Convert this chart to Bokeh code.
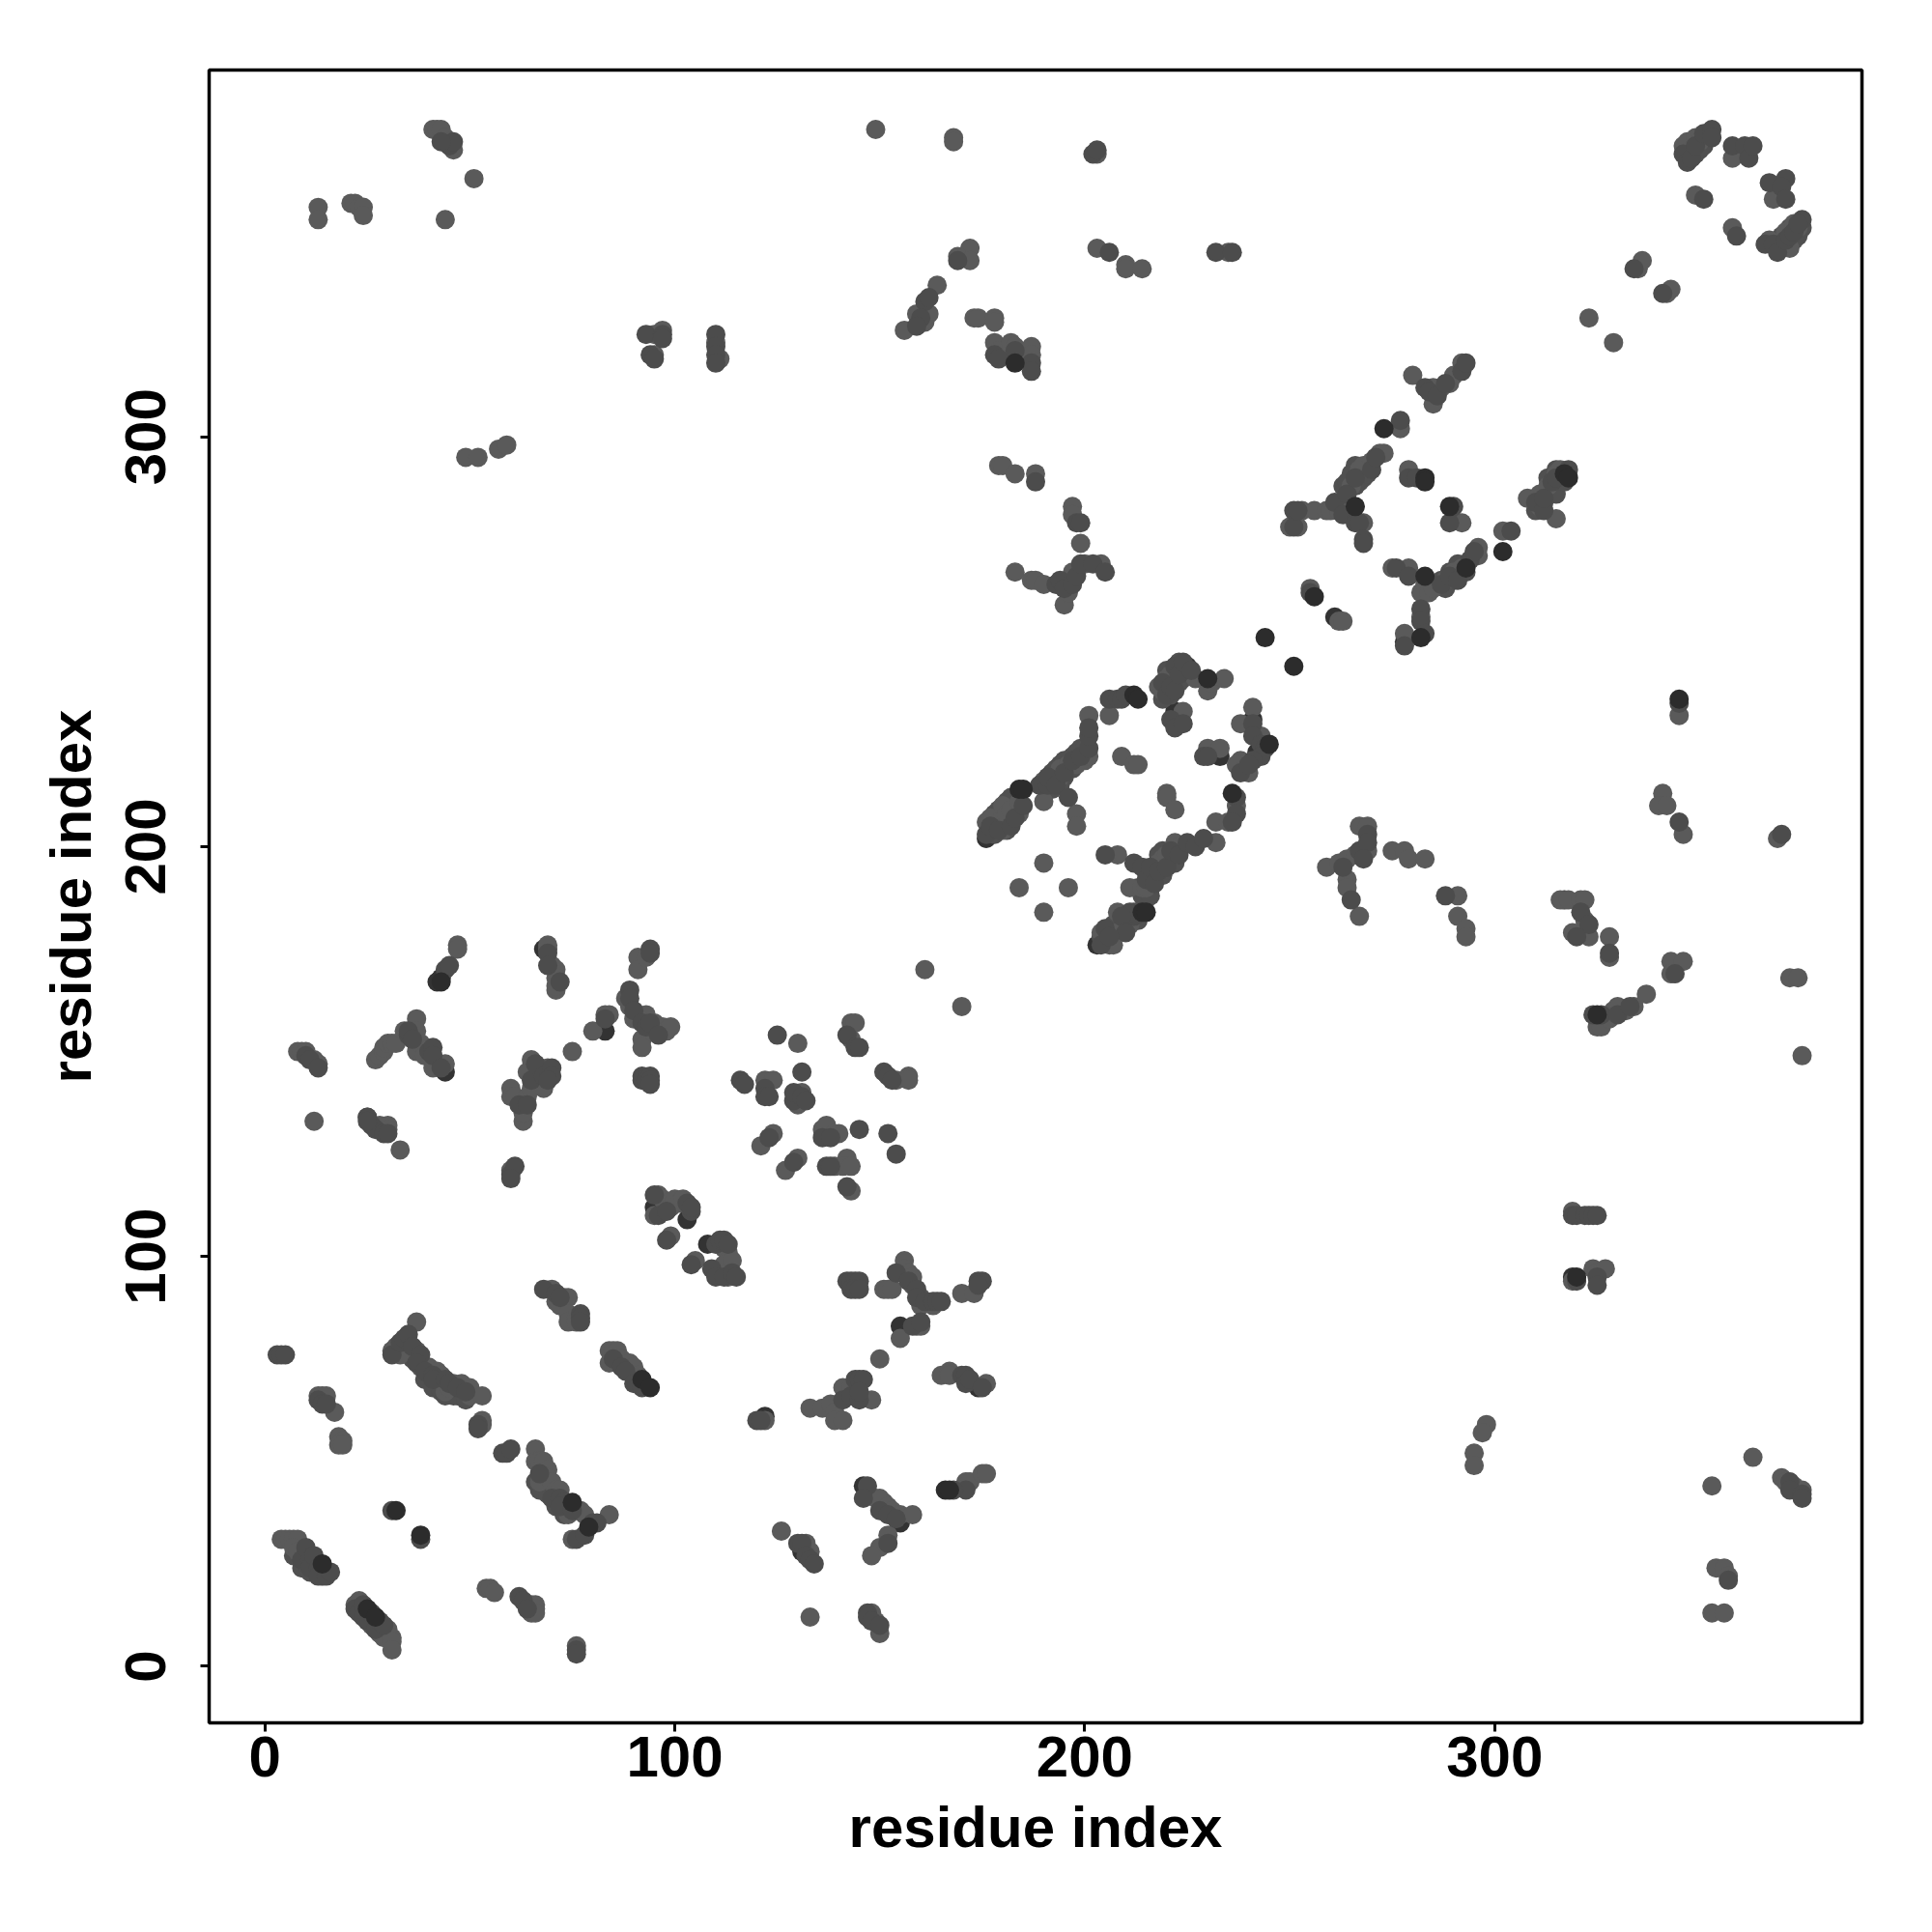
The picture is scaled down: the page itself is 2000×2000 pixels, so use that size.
from bokeh.plotting import figure
from bokeh.models import FixedTicker, ColumnDataSource
from bokeh.embed import file_html
from bokeh.resources import INLINE

tick_values = [0, 100, 200, 300]
axis_label = "residue index"

# contacts (residue i, residue j), by grey level
under_dark = [(12,25),(14,22),(42,167),(43,168),(68,175),(83,155),(95,112),(103,109),(108,103),(111,96),(131,28),
 (146,44),(155,35),(122,61),(155,83),(174,68),(176,202),(203,176),(261,256),(278,250),(269,293),(242,223),(241,231),
 (222,233),(233,222),(225,244),(67,146),(44,145),(319,95),(317,187)]

mid = [(31,76),(33,79),(34,80),(35,81),(36,78),(38,76),(37,74),(39,72),(41,71),(41,70),(44,70),(45,69),(47,68),(49,67),
 (52,59),(52,58),(58,52),(59,52),(60,53),(67,47),(70,41),(72,41),(73,40),(72,39),(75,38),(76,31),(78,32),(80,35),(81,35),
 (68,92),(71,91),(72,90),(77,86),(77,85),(77,84),(85,75),(87,73),(88,72),(90,69),(92,68),
 (9,26),(10,29),(11,26),(11,24),(12,27),(13,24),(13,22),(15,22),(16,23),(22,14),(23,13),(24,15),(24,12),(25,11),(26,13),
 (27,9),(28,11),(29,10),(3,76),(4,76),(5,76),(13,65),(14,64),(15,64),(62,17),(63,16),(64,14),(76,4),(76,3),(38,31),(31,38),
 (44,170),(45,171),(69,174),(69,171),(72,167),(94,175),(94,174),(83,158),(89,165),(89,163),(90,160),(92,157),(93,156),
 (94,157),(96,154),(92,144),(92,143),(93,143),(94,144),(94,143),(94,142),(10,149),(11,148),(13,146),(25,134),(26,132),
 (27,131),(29,130),(30,130),(35,154),(35,155),(36,153),(40,150),(41,151),(41,149),(43,146),(62,137),(64,137),(65,143),
 (66,147),(68,144),(70,146),(70,144),(69,143),(60,120),(61,122),(60,119),(95,115),(96,110),(98,111),(103,113),(104,111),
 (104,112),(98,104),(104,98),(125,154),(131,145),(142,154),(144,151),(145,151),(151,145),(152,144),(153,143),(116,143),
 (117,142),(122,141),(122,139),(123,139),(129,138),(129,140),(131,139),(132,138),(123,129),(129,123),(136,129),(138,129),
 (137,122),(138,122),(145,131),(152,130),(154,125),(142,117),(110,103),(111,104),(112,104),(113,103),(109,97),(110,95),
 (112,95),(114,96),(115,95),(142,94),(143,94),(144,94),(145,94),(143,92),(144,92),(145,92),(154,96),(157,94),(159,92),
 (159,90),(161,89),(163,89),(164,89),(165,89),(174,94),(175,94),(174,93),(158,83),(160,84),(141,65),(143,66),(144,70),
 (145,70),(146,70),(145,65),(145,67),(120,60),(121,60),(170,71),(171,71),(171,69),(172,70),(175,68),(171,43),(168,43),
 (147,44),(146,41),(150,38),(152,37),(154,36),(152,30),(130,30),(131,30),(132,27),(133,26),(134,25),(147,13),(147,12),
 (148,11),(150,10),(176,203),(177,205),(179,204),(182,205),(183,207),(185,210),(189,215),(191,215),(191,217),(193,215),
 (195,218),(196,212),(197,221),(199,222),(201,224),(201,227),(201,229),(206,236),(208,236),(209,236),(210,237),
 (219,240),(220,237),(221,239),(222,238),(222,244),(223,242),(224,245),(226,243),(221,231),(222,229),(224,230),(229,222),
 (230,222),(241,230),(241,227),(243,225),(244,224),(243,222),(241,221),(238,218),(240,220),(237,212),(237,208),(236,206),
 (205,198),(212,196),(214,195),(215,192),(216,195),(217,191),(218,194),(220,195),(221,199),(223,198),(225,201),(227,200),
 (229,202),(212,183),(211,184),(209,183),(210,179),(205,180),(204,176),(206,178),
 (251,278),(251,282),(252,282),(261,284),(263,281),(264,286),(266,290),(266,279),(267,279),(268,275),(268,274),(270,292),
 (271,295),(277,304),(279,290),(281,290),(290,283),(289,279),(276,268),(279,266),(282,258),(282,255),(283,252),(278,249),
 (287,264),(289,266),(291,265),(294,270),(295,272),(304,277),(310,284),(312,282),(312,285),(314,289),(315,290),(318,292),
 (283,312),(284,311),(286,310),(288,313),(292,316),(293,318),(255,262),(346,369),(347,367),(348,368),(349,371),(351,374),
 (353,375),(353,373),(358,371),(361,371),(362,368),(363,371),(367,362),(371,363),(370,361),(371,358),(359,349),(351,358),
 (366,347),(368,347),(369,345),(371,348),(372,349),(373,350),(375,353),(374,352),(334,341),(341,335),(202,369),(203,370),
 (206,345),(232,345),(236,345),(169,343),(161,333),(162,334),(160,329),(159,327),(178,320),(179,319),(183,321),(187,318),
 (187,316),(93,325),(97,325),(97,324),(94,320),(95,319),(110,325),(110,322),(110,320),(110,318),(45,371),(46,372),(43,372),
 (188,289),(198,279),(199,279),(193,264),(194,265),(195,263),(197,264),(198,266),(199,269),(202,269),(205,267),
 (263,195),(267,199),(269,203),(269,201),(268,197),(265,187),(288,188),(321,184),(323,181),(320,178),(328,174),(324,159),
 (326,159),(330,159),(333,161),(319,110),(320,110),(322,110),(323,110),(324,110),(325,110),(320,94),(325,95),(325,93),
 (372,45),(372,43),(375,42),(375,41),(357,21),(344,169),(345,235),(345,206),(370,203),(25,133)]

light = [(37,84),(32,77),(31,77),(32,78),(33,76),(37,77),(38,73),(40,73),(42,72),(43,71),(44,67),(45,68),(46,69),(48,69),
 (50,68),(50,66),(53,66),(53,60),(53,59),(13,66),(14,66),(15,66),(17,62),(18,56),(19,55),(18,54),(19,54),
 (66,53),(66,50),(67,50),(68,50),(67,45),(69,48),(69,46),(70,45),(71,43),(72,43),(74,37),(75,31),(76,38),(77,38),(78,37),(84,37),
 (70,92),(73,90),(74,90),(71,89),(72,88),(74,86),(74,84),(76,85),(76,84),(84,77),(85,77),(86,77),(84,74),(87,75),(89,74),(90,73),(91,71),
 (4,31),(5,31),(6,31),(7,31),(8,31),(7,29),(8,28),(10,27),(22,15),(23,16),(26,10),(28,8),(29,7),(30,9),(31,7),(31,6),(31,4),
 (54,19),(55,19),(56,18),(65,15),(66,15),(65,13),(66,14),(66,13),(76,5),
 (47,176),(47,175),(69,175),(69,176),(70,171),(71,170),(71,168),(71,165),(71,166),(91,173),(91,170),(93,173),
 (80,155),(83,159),(84,159),(88,163),(89,161),(90,158),(91,158),(93,159),(95,157),(96,156),(97,156),(98,155),(99,156),(92,153),(92,151),
 (8,150),(9,150),(10,150),(12,148),(13,147),(12,133),(25,134),(28,132),(29,131),(30,132),(30,131),(33,126),
 (27,148),(28,149),(29,150),(29,151),(30,152),(31,152),(32,152),(34,155),(36,154),(37,158),(37,155),(37,152),(37,150),(38,152),(39,151),(39,149),(41,146),(44,147),
 (60,141),(60,139),(61,139),(63,133),(63,135),(64,139),(65,141),(64,145),(65,148),(68,141),(69,146),(75,150),(60,121),
 (96,115),(97,114),(98,113),(99,112),(100,114),(101,113),(102,114),(95,110),(99,105),(105,99),
 (130,152),(143,157),(144,157),(143,153),(154,143),(157,144),(157,143),(122,143),(124,143),(131,140),(130,137),
 (124,130),(121,127),(130,124),(127,121),(136,131),(137,132),(139,130),(140,130),(139,122),(142,124),(141,122),(143,122),(143,116),(170,161),(161,170),
 (112,102),(113,101),(113,99),(112,98),(114,99),(113,95),
 (151,92),(152,92),(153,92),(156,99),(156,97),(157,96),(158,95),(158,93),(160,90),(160,88),(163,88),(170,91),(173,91),
 (155,80),(159,83),(160,83),(150,75),(133,63),(136,63),(138,64),(139,62),(139,60),(141,60),(141,68),(143,68),(148,65),(122,60),
 (165,71),(167,72),(167,71),(176,69),(171,45),(172,45),(175,47),(176,47),
 (149,41),(151,40),(150,41),(152,39),(153,38),(155,37),(158,37),(152,32),(150,29),(148,27),(126,33),(132,30),(133,28),(133,12),(148,13),(149,11),(150,8),
 (176,206),(177,207),(179,206),(180,204),(180,210),(181,208),(182,209),(184,208),(184,211),(190,211),(190,216),(192,216),(193,217),(194,217),(194,219),(196,220),(198,220),(198,208),(198,205),(200,221),(201,222),(201,232),(206,232),
 (218,239),(219,238),(220,241),(221,242),(227,241),(230,238),(231,240),(234,241),(224,233),(223,230),(209,222),(212,220),(213,220),(220,213),(220,212),(222,209),(230,224),(233,224),
 (241,234),(238,230),(243,227),(238,221),(237,220),(239,219),(240,218),(237,210),(232,206),(235,206),(208,198),(190,196),(184,190),(196,190),(190,184),(211,190),
 (214,190),(215,194),(215,190),(216,192),(217,193),(218,196),(219,197),(220,198),(222,201),(223,200),(232,201),(208,184),(211,181),(208,179),(204,179),(206,176),(207,176),
 (255,263),(262,255),(263,255),(250,278),(252,278),(253,282),(256,282),(259,282),(260,282),(262,282),(263,284),(264,283),(265,288),(268,279),(267,292),(268,293),(270,294),(272,296),(273,296),(277,302),(279,292),(292,279),
 (275,268),(279,268),(282,262),(283,264),(284,262),(285,263),(282,256),(278,252),(288,265),(290,267),(292,268),(296,273),(296,271),(302,277),
 (308,285),(311,283),(311,286),(313,288),(315,280),(315,291),(316,292),(280,315),(285,312),(285,308),(287,312),(289,313),(290,315),(292,318),
 (346,371),(347,372),(348,370),(349,373),(350,372),(358,368),(368,358),(349,359),(358,351),(367,348),(370,346),(372,346),(371,350),(373,352),(374,351),
 (335,341),(336,343),(342,335),(343,336),(323,329),(329,323),(203,369),(203,346),(210,342),(210,341),(214,341),(235,345),
 (172,346),(169,344),(172,343),(164,337),(159,330),(161,328),(162,330),(156,326),(173,329),(174,329),(178,329),(178,328),(178,323),(179,321),(182,323),(183,322),(187,322),(187,320),
 (41,375),(42,375),(43,375),(44,373),(45,372),(46,370),(51,363),(44,353),(13,356),(13,353),(21,357),(22,357),(23,356),(24,356),(24,354),
 (49,295),(52,295),(57,297),(59,298),(95,325),(97,326),(95,320),(110,323),(111,319),(149,375),(168,373),(168,372),
 (179,293),(180,293),(183,291),(188,291),(197,283),(197,281),(199,274),(183,267),(187,265),(188,265),(190,264),(195,259),(196,262),(197,267),(200,269),(204,269),
 (259,195),(262,196),(264,192),(264,190),(267,183),(264,197),(266,198),(269,199),(267,205),(269,205),(275,199),(278,199),(279,197),(283,197),(291,188),(291,183),(293,180),(293,178),
 (316,187),(318,187),(321,187),(322,187),(322,182),(319,179),(323,178),(328,178),(328,173),(343,172),(346,172),(343,169),(372,168),(374,168),(375,149),
 (325,156),(326,156),(328,158),(329,160),(330,161),(332,160),(334,161),(337,164),(319,111),(324,97),(325,96),(327,97),(319,94),
 (298,59),(297,57),(295,52),(295,49),(363,51),(353,44),(370,46),(371,45),(373,44),(375,43),(354,24),(356,24),(357,22),(353,13),(356,13),
 (345,232),(341,213),(340,210),(342,210),(346,203),(369,202)]

# further contacts that widen the dense bands
band_extra = [(194,220),(195,221),(197,222),(198,223),(199,224),(200,224),(192,218),(193,219),(195,217),(197,219),(192,214),(194,215),
 (219,193),(221,196),(222,196),(219,199),(218,198),(216,190),(214,188),(216,188),(213,190),
 (263,288),(264,289),(266,293),(265,291),(268,290),(267,289),(266,288),(269,291),
 (287,265),(289,267),(291,269),(288,263),(290,265),(293,267),
 (313,290),(315,292),(315,286),(317,289),(312,284),(310,282),
 (349,369),(350,370),(351,371),(352,373),(347,370),
 (369,347),(370,349),(372,351),(374,349),(375,351),(373,348),
 (204,178),(205,177),(207,181),(209,180),(210,182),(212,184),(213,182),
 (178,208),(178,203),(180,207),(181,204),(183,210),(182,212),(179,209),(181,211),
 (219,236),(221,237),(223,240),(222,240),(224,241),(220,243),(223,245),
 (39,70),(36,75),(41,68),(43,67),(44,66),(46,66),(47,66),(49,65),
 (66,45),(67,43),(69,42),(70,43),(71,39),(73,37),(7,27),(9,24),(10,25),(11,23)]

top_dark = [(32,38),(38,32),(14,25),(25,14),(27,12),(75,40),(79,34),(92,70),(94,68),(43,167),(183,318),(166,43),(167,43),
 (212,237),(213,236),(184,214),(185,214),(214,184),(215,184),(230,241),(245,225),(236,213),(251,244),(244,251),(256,261),
 (283,290),(283,289),(289,283),(266,283),(283,266),(282,251),(273,302),(302,272),(293,268),(317,291),(318,290),
 (325,159),(320,95),(345,236)]

groups = [(under_dark, "#333333"), (band_extra, "#505050"), (light, "#5a5a5a"), (mid, "#4c4c4c"), (top_dark, "#2c2c2c")]

p = figure(width=1984, height=1984, x_range=(-13.6, 389.6), y_range=(-13.8, 389.5),
           output_backend="svg", toolbar_location=None,
           min_border_left=216, min_border_right=57, min_border_top=72, min_border_bottom=201,
           x_axis_label=axis_label, y_axis_label=axis_label)

for pts, colour in groups:
    src = ColumnDataSource(dict(i=[a for a, _ in pts], j=[b for _, b in pts]))
    p.scatter("i", "j", source=src, size=20, fill_color=colour, line_color=None)

p.grid.visible = False
p.background_fill_color = "white"
p.border_fill_color = "white"
p.outline_line_color = "black"
p.outline_line_width = 3.5

for ax in (p.xaxis[0], p.yaxis[0]):
    ax.ticker = FixedTicker(ticks=tick_values)
    ax.minor_tick_line_color = None
    ax.axis_line_color = None
    ax.major_tick_line_color = "black"
    ax.major_tick_line_width = 3
    ax.major_tick_in = 0
    ax.major_tick_out = 9
    ax.major_label_text_font = "Liberation Sans"
    ax.major_label_text_font_style = "bold"
    ax.major_label_text_font_size = "60px"
    ax.major_label_text_color = "black"
    ax.axis_label_text_font = "Liberation Sans"
    ax.axis_label_text_font_style = "bold"
    ax.axis_label_text_font_size = "60px"
    ax.axis_label_text_color = "black"

p.yaxis[0].major_label_orientation = "vertical"
p.xaxis[0].major_label_standoff = 5
p.yaxis[0].major_label_standoff = 36
p.xaxis[0].axis_label_standoff = 16
p.yaxis[0].axis_label_standoff = 21

open("out.html", "w").write(file_html(p, INLINE))
